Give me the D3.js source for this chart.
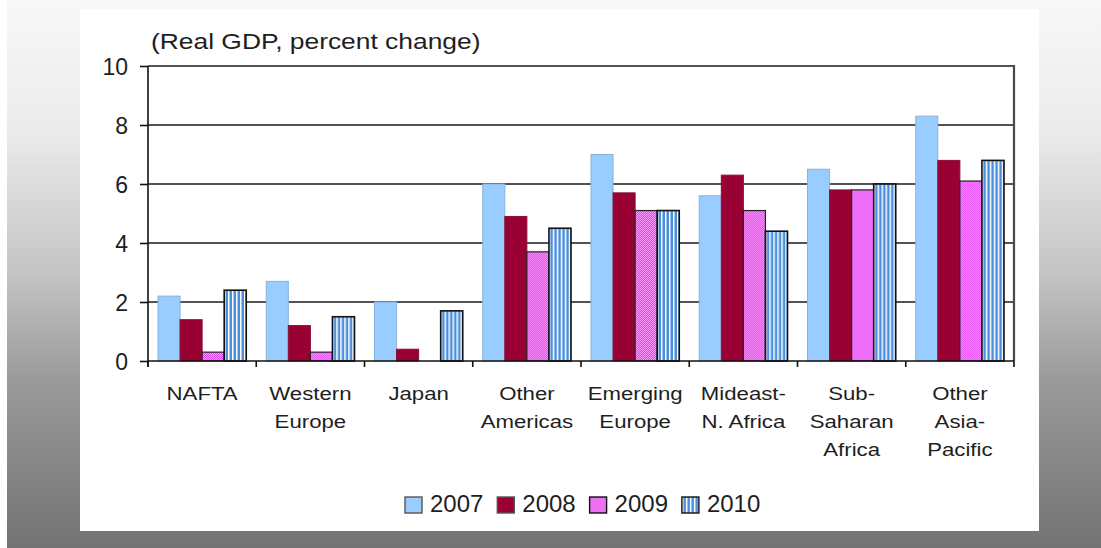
<!DOCTYPE html>
<html>
<head>
<meta charset="utf-8">
<script src="https://cdn.jsdelivr.net/npm/d3@7"></script>
<style>
  html, body { margin: 0; padding: 0; background: #ffffff; }
  svg { display: block; }
  text { font-family: "Liberation Sans", Arial, sans-serif; fill: #1e1e1e; }
</style>
</head>
<body>
<svg id="chart" width="1101" height="548"></svg>
<script>
// Regions and years
const categories = ["NAFTA", "Western\nEurope", "Japan", "Other\nAmericas", "Emerging\nEurope",
                    "Mideast-\nN. Africa", "Sub-\nSaharan\nAfrica", "Other\nAsia-\nPacific"];
const years = ["2007", "2008", "2009", "2010"];

// Real GDP growth, percent change, per region
const gdp2007 = [2.2, 2.7, 2.0, 6.0, 7.0, 5.6, 6.5, 8.3];
const gdp2008 = [1.4, 1.2, 0.4, 4.9, 5.7, 6.3, 5.8, 6.8];
const gdp2009 = [0.3, 0.3, 0.0, 3.7, 5.1, 5.1, 5.8, 6.1];
const gdp2010 = [2.4, 1.5, 1.7, 4.5, 5.1, 4.4, 6.0, 6.8];

const yTicks = [0, 2, 4, 6, 8, 10];
const titleText = "(Real GDP, percent change)";

const seriesValues = [gdp2007, gdp2008, gdp2009, gdp2010];

const svg = d3.select("#chart");
const defs = svg.append("defs");

// Backdrop gradient behind the white panel
const bg = defs.append("linearGradient").attr("id", "bgGrad")
  .attr("x1", 0).attr("y1", 0).attr("x2", 0).attr("y2", 1);
[[0, "#f8f8f8"], [0.24, "#ebebeb"], [0.5, "#c4c4c4"], [0.69, "#9b9b9b"], [1, "#737373"]]
  .forEach(([o, c]) => bg.append("stop").attr("offset", o).attr("stop-color", c));

// Checkered magenta fill for 2009
const chk = defs.append("pattern").attr("id", "pat2009")
  .attr("patternUnits", "userSpaceOnUse").attr("width", 2).attr("height", 2);
chk.append("rect").attr("width", 2).attr("height", 2).attr("fill", "#ff99ff");
chk.append("rect").attr("width", 1).attr("height", 1).attr("fill", "#dd44ee");
chk.append("rect").attr("x", 1).attr("y", 1).attr("width", 1).attr("height", 1).attr("fill", "#dd44ee");

// Vertical stripes for 2010
const str = defs.append("pattern").attr("id", "pat2010")
  .attr("patternUnits", "userSpaceOnUse").attr("width", 4).attr("height", 4);
str.append("rect").attr("width", 4).attr("height", 4).attr("fill", "#4b8fdc");
str.append("rect").attr("width", 1.5).attr("height", 4).attr("fill", "#ffffff");

const fills = ["#99ccff", "#990033", "url(#pat2009)", "url(#pat2010)"];
const strokes = ["#86b2dc", "#8a1030", "#222222", "#111111"];
const strokeW = [1, 1, 1.2, 1.6];

svg.append("rect").attr("x", 7).attr("y", 0).attr("width", 1094).attr("height", 548)
  .attr("fill", "url(#bgGrad)");
svg.append("rect").attr("x", 80).attr("y", 9).attr("width", 959).attr("height", 522)
  .attr("fill", "#ffffff");

// Plot frame
const plotLeft = 148, plotRight = 1014, plotTop = 66, plotBottom = 361;

const x0 = d3.scaleBand().domain(categories).range([plotLeft, plotRight]).padding(0);
const x1 = d3.scaleBand().domain(years).range([10, x0.bandwidth() - 10]).padding(0);
const y = d3.scaleLinear().domain([0, 10]).range([plotBottom, plotTop]);

// Gridlines
svg.append("g").selectAll("line").data(yTicks.filter(t => t > 0)).join("line")
  .attr("x1", plotLeft).attr("x2", plotRight)
  .attr("y1", d => y(d)).attr("y2", d => y(d))
  .attr("stroke", "#1a1a1a").attr("stroke-width", 1.6);

// Right border of the plot area
svg.append("line").attr("x1", plotRight).attr("x2", plotRight).attr("y1", plotTop - 1).attr("y2", plotBottom)
  .attr("stroke", "#4a4a4a").attr("stroke-width", 2.2);

// Bars
const groups = svg.append("g").selectAll("g").data(categories).join("g")
  .attr("transform", d => `translate(${x0(d)},0)`);
groups.selectAll("rect")
  .data((c, ci) => years.map((yr, si) => ({ yr, si, v: seriesValues[si][ci] })).filter(d => d.v > 0))
  .join("rect")
  .attr("x", d => x1(d.yr))
  .attr("y", d => y(d.v))
  .attr("width", x1.bandwidth())
  .attr("height", d => y(0) - y(d.v))
  .attr("fill", d => fills[d.si])
  .attr("stroke", d => strokes[d.si])
  .attr("stroke-width", d => strokeW[d.si]);

// Y axis
const yAxis = d3.axisLeft(y).tickValues(yTicks).tickSize(8).tickFormat(d3.format("d"));
const ya = svg.append("g").attr("transform", `translate(${plotLeft},0)`).call(yAxis);
ya.select(".domain").attr("stroke", "#111").attr("stroke-width", 1.6)
  .attr("d", `M0,${plotTop}V${plotBottom + 6}`);
ya.selectAll(".tick line").attr("stroke", "#111").attr("stroke-width", 1.6);
ya.selectAll(".tick text").attr("x", -20).attr("dy", "0.36em")
  .style("font-size", "23px").style("font-family", "'Liberation Sans', Arial, sans-serif")
  .attr("fill", "#1e1e1e");

// X axis line and category separators
const xa = svg.append("g").attr("transform", `translate(0,${plotBottom})`);
xa.append("line").attr("x1", plotLeft).attr("x2", plotRight).attr("stroke", "#111").attr("stroke-width", 1.6);
const bounds = categories.map(c => x0(c)).concat([plotRight]);
xa.selectAll("line.sep").data(bounds).join("line").attr("class", "sep")
  .attr("x1", d => d).attr("x2", d => d).attr("y1", 0).attr("y2", 6)
  .attr("stroke", "#111").attr("stroke-width", 1.6);

// Category labels
const lab = svg.append("g").selectAll("text").data(categories).join("text")
  .attr("transform", d => `translate(${x0(d) + x0.bandwidth() / 2},0) scale(1.2,1)`)
  .attr("text-anchor", "middle").style("font-size", "18.5px");
lab.selectAll("tspan").data(d => d.split("\n")).join("tspan")
  .attr("x", 0).attr("y", (d, i) => 400.5 + i * 28).text(d => d);

// Title
svg.append("text").attr("transform", "translate(151,49) scale(1.2,1)")
  .style("font-size", "22px").text(titleText);

// Legend
const leg = svg.append("g").selectAll("g").data(years).join("g")
  .attr("transform", (d, i) => `translate(${405 + i * 92.3},497)`);
leg.append("rect").attr("width", 17).attr("height", 16)
  .attr("fill", (d, i) => fills[i]).attr("stroke", (d, i) => i < 2 ? "#555" : "#111")
  .attr("stroke-width", 1.4);
leg.append("text").attr("x", 25).attr("y", 14.5).style("font-size", "24px").text(d => d);
</script>
</body>
</html>
